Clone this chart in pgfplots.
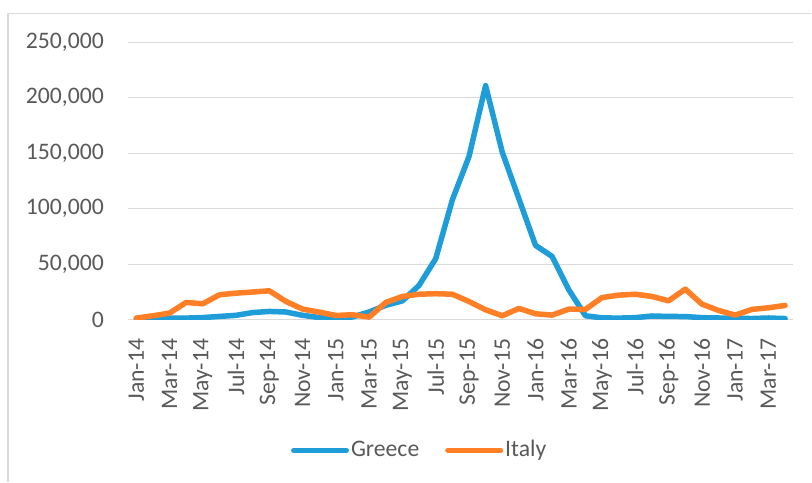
\documentclass[border=0pt]{standalone}
\usepackage{fontspec}
\setmainfont{Carlito}
\usepackage{pgfplots}
\pgfplotsset{compat=1.18}
\usepackage{pgfplotstable}
\definecolor{grblue}{RGB}{30,157,216}
\definecolor{itorange}{RGB}{255,127,39}
\definecolor{txtgray}{RGB}{89,89,89}
\definecolor{gridgray}{RGB}{217,217,217}
\pgfplotstableread{
idx greece italy
0 1000 1500
1 1000 3600
2 1500 6000
3 1500 15600
4 2000 14400
5 3000 22500
6 4000 24000
7 6500 25000
8 7500 26100
9 7000 16500
10 4000 9600
11 2000 6900
12 1500 3900
13 2500 4500
14 7000 2400
15 13000 15600
16 17000 21000
17 31000 23000
18 55000 23500
19 108000 23000
20 147000 16500
21 211000 9000
22 151000 3600
23 109000 10200
24 67000 5400
25 57000 4200
26 27000 9600
27 3600 9300
28 1700 20000
29 1500 22200
30 1900 23000
31 3400 21000
32 3000 17100
33 2900 27600
34 1900 14100
35 1600 8400
36 1400 4200
37 1100 9300
38 1600 10800
39 1100 12900
}\datatable
\begin{document}
\fontsize{23.7bp}{28bp}\selectfont
\begin{tikzpicture}
\begin{axis}[
  scale only axis,
  width=666bp, height=277.7bp,
  anchor=south west, at={(0,0)},
  xmin=-0.5, xmax=39.5,
  ymin=0, ymax=250000,
  scaled y ticks=false,
  axis line style={draw=none},
  major tick length=0pt,
  ymajorgrids, grid style={gridgray, line width=1.2bp},
  ytick={0,50000,100000,150000,200000,250000},
  yticklabels={0,{50,000},{100,000},{150,000},{200,000},{250,000}},
  xtick={0,2,...,38},
  xticklabels={Jan-14,Mar-14,May-14,Jul-14,Sep-14,Nov-14,Jan-15,Mar-15,May-15,Jul-15,Sep-15,Nov-15,Jan-16,Mar-16,May-16,Jul-16,Sep-16,Nov-16,Jan-17,Mar-17},
  x tick label style={rotate=90, anchor=east, text=txtgray, font=\fontsize{23.7bp}{28bp}\selectfont},
  y tick label style={text=txtgray, font=\fontsize{23.7bp}{28bp}\selectfont},
  xticklabel shift=11bp,
  yticklabel shift=16bp,
  legend columns=2,
  legend style={draw=none, fill=none, at={(axis description cs:0.4384,-0.4707)}, anchor=center,
    font=\fontsize{23.7bp}{28bp}\selectfont, text=txtgray,
    /tikz/every even column/.append style={column sep=24bp}},
  legend image code/.code={\draw[#1, line width=5bp, line cap=round] (0bp,0bp) -- (53bp,0bp);},
]
\addplot[grblue, line width=5.5bp, line join=round, line cap=round] table[x=idx, y=greece] {\datatable};
\addlegendentry{Greece}
\addplot[itorange, line width=5.5bp, line join=round, line cap=round] table[x=idx, y=italy] {\datatable};
\addlegendentry{Italy}
\end{axis}
\draw[gridgray, line width=1.2bp] (-120bp,-162bp) -- (-120bp,306.3bp) -- (684bp,306.3bp);
\path[use as bounding box] (-128bp,-162bp) rectangle (684bp,320bp);
\end{tikzpicture}
\end{document}
